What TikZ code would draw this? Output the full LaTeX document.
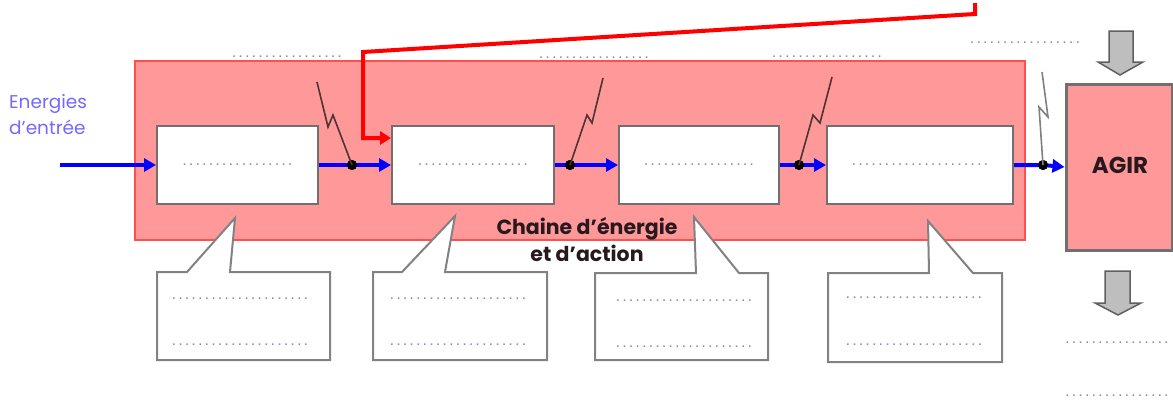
\documentclass[tikz,border=0pt]{standalone}
\usepackage{fontspec}
\setmainfont{Poppins}
\newfontfamily\dotsfont{Liberation Mono}
\usetikzlibrary{arrows.meta}

\definecolor{chainpink}{RGB}{255,153,153}
\definecolor{chainred}{RGB}{255,80,80}
\definecolor{boxgray}{RGB}{112,112,112}
\definecolor{bubblegray}{RGB}{130,130,130}
\definecolor{dotcol}{RGB}{135,142,170}
\definecolor{inputcol}{RGB}{115,105,255}
\definecolor{boltcol}{RGB}{80,50,50}
\definecolor{arrowfill}{RGB}{190,190,190}
\definecolor{arrowedge}{RGB}{95,95,95}
\definecolor{titlecol}{RGB}{40,25,30}

\newcommand\pointille[1]{{\dotsfont\fontsize{11}{11}\selectfont\bfseries\color{dotcol}#1}}
\newcommand\ligne{.................}
\newcommand\lignecourte{................}
\newcommand\lignelongue{.....................}

\begin{document}
\begin{tikzpicture}[x=1pt,y=-1pt,
  chainbox/.style={draw=chainred, line width=2pt, fill=chainpink, inner sep=0pt},
  stagebox/.style={draw=boxgray, line width=2pt, fill=white, inner sep=0pt, minimum height=78pt},
  agirbox/.style={draw=boxgray, line width=3pt, fill=chainpink, inner sep=0pt},
  flow/.style={draw=blue, line width=4pt, -{Triangle[length=12pt,width=13pt]}},
  jdot/.style={circle, fill=black, inner sep=0pt, minimum size=10pt},
  bolt/.style={draw=boltcol, line width=1.6pt},
  order/.style={draw=red, line width=4pt, line join=miter, -{Triangle[length=11pt,width=13pt]}},
  bubble/.style={draw=bubblegray, line width=2pt, fill=white, line join=miter},
  blockarrow/.style={draw=arrowedge, line width=1.5pt, fill=arrowfill, line join=miter},
  dotlabel/.style={inner sep=0pt, anchor=center},
  intext/.style={font=\fontsize{18.5}{26}\selectfont, text=inputcol, align=left, inner sep=0pt},
  chaintext/.style={font=\fontsize{20.5}{27}\selectfont\bfseries, text=titlecol, align=center, inner sep=0pt}
]
\useasboundingbox (0,0) rectangle (1173,402);

% chain of energy and action
\node[chainbox, minimum width=890pt, minimum height=179pt] (chaine) at (580,150.5) {};

% stages of the chain
\node[stagebox, minimum width=161pt] (b1) at (237.5,165) {\pointille{\ligne}};
\node[stagebox, minimum width=162pt] (b2) at (473,165) {\pointille{\ligne}};
\node[stagebox, minimum width=160pt] (b3) at (699,165) {\pointille{\ligne}};
\node[stagebox, minimum width=186pt] (b4) at (920,165) {\pointille{\lignelongue}};

% action box
\node[agirbox, minimum width=106pt, minimum height=166pt] (agir) at (1119,167) {};
\node[text=titlecol] (agirtxt) at (1120,165) {\fontsize{23}{23}\selectfont\bfseries AGIR};

% energy flow
\coordinate (in) at (60,165);
\node[jdot] (j1) at (352,165) {};
\node[jdot] (j2) at (570,165) {};
\node[jdot] (j3) at (799,165) {};
\node[jdot] (j4) at (1043,165) {};

\draw[flow] (in) -- (b1.west);
\draw[flow] (b1.east) -- (j1.center) -- (b2.west);
\draw[flow] (b2.east) -- (j2.center) -- (b3.west);
\draw[flow] (b3.east) -- (j3.center) -- (b4.west);
\draw[flow] (b4.east) -- (j4.center) -- (agir.west);
\foreach \j in {j1,j2,j3,j4} \node[jdot] at (\j) {};

% control signals (switches)
\draw[bolt] (317,82) -- (328,127) -- (333,115) -- (j1.center);
\draw[bolt] (j2.center) -- (587,115) -- (592,123) -- (603,78);
\draw[bolt] (j3.center) -- (813,115) -- (820,123) -- (832,77);
\draw[bolt, draw=gray] (j4.center) -- (1039,107) -- (1048,117) -- (1042,72);

% order coming from the control chain
\coordinate (ordre0) at (975,3);
\coordinate (ordre1) at (975,14);
\coordinate (ordre2) at (363,52);
\coordinate (ordre3) at (363,138);
\draw[order] (ordre0) -- (ordre1) -- (ordre2) -- (ordre3) -- (ordre3 -| b2.west);

% labels
\node[intext, anchor=north west] (entree) at (9,94) {Energies\\d'entrée};
\node[chaintext] (titre) at (587,240) {Chaine d'énergie\\et d'action};

% callouts
\path[bubble] (157,272) -- (187,272) -- (235,218) -- (230,272) -- (330,272)
  -- (330,360) -- (157,360) -- cycle;
\path[bubble] (373,272) -- (402,272) -- (455,216) -- (445,272) -- (547,272)
  -- (547,360) -- (373,360) -- cycle;
\path[bubble] (595,273) -- (696,273) -- (694,217) -- (739,273) -- (768,273)
  -- (768,360) -- (595,360) -- cycle;
\path[bubble] (828,273) -- (929,273) -- (928,221) -- (973,273) -- (1002,273)
  -- (1002,362) -- (828,362) -- cycle;

\node[dotlabel] (c1a) at (240,299) {\pointille{\lignelongue}};
\node[dotlabel] (c1b) at (240,345) {\pointille{\lignelongue}};
\node[dotlabel] (c2a) at (458,299) {\pointille{\lignelongue}};
\node[dotlabel] (c2b) at (458,345) {\pointille{\lignelongue}};
\node[dotlabel] (c3a) at (684,301) {\pointille{\lignelongue}};
\node[dotlabel] (c3b) at (684,347) {\pointille{\lignelongue}};
\node[dotlabel] (c4a) at (914,298) {\pointille{\lignelongue}};
\node[dotlabel] (c4b) at (914,345) {\pointille{\lignelongue}};

% placeholders above the chain
\node[dotlabel] (h1) at (287,57) {\pointille{\ligne}};
\node[dotlabel] (h2) at (594,58) {\pointille{\ligne}};
\node[dotlabel] (h3) at (827,57) {\pointille{\ligne}};
\node[dotlabel] (h4) at (1025,43) {\pointille{\ligne}};

% inputs and outputs of the action
\path[blockarrow] (1109,31) -- (1133,31) -- (1133,62) -- (1143,62) -- (1120,75)
  -- (1098,62) -- (1109,62) -- cycle;
\path[blockarrow] (1105,271) -- (1130,271) -- (1130,303) -- (1141,303) -- (1118,315)
  -- (1095,303) -- (1105,303) -- cycle;
\node[dotlabel, anchor=west] (s1) at (1064,343) {\pointille{\lignecourte}};
\node[dotlabel, anchor=west] (s2) at (1064,396) {\pointille{\lignecourte}};
\end{tikzpicture}
\end{document}
